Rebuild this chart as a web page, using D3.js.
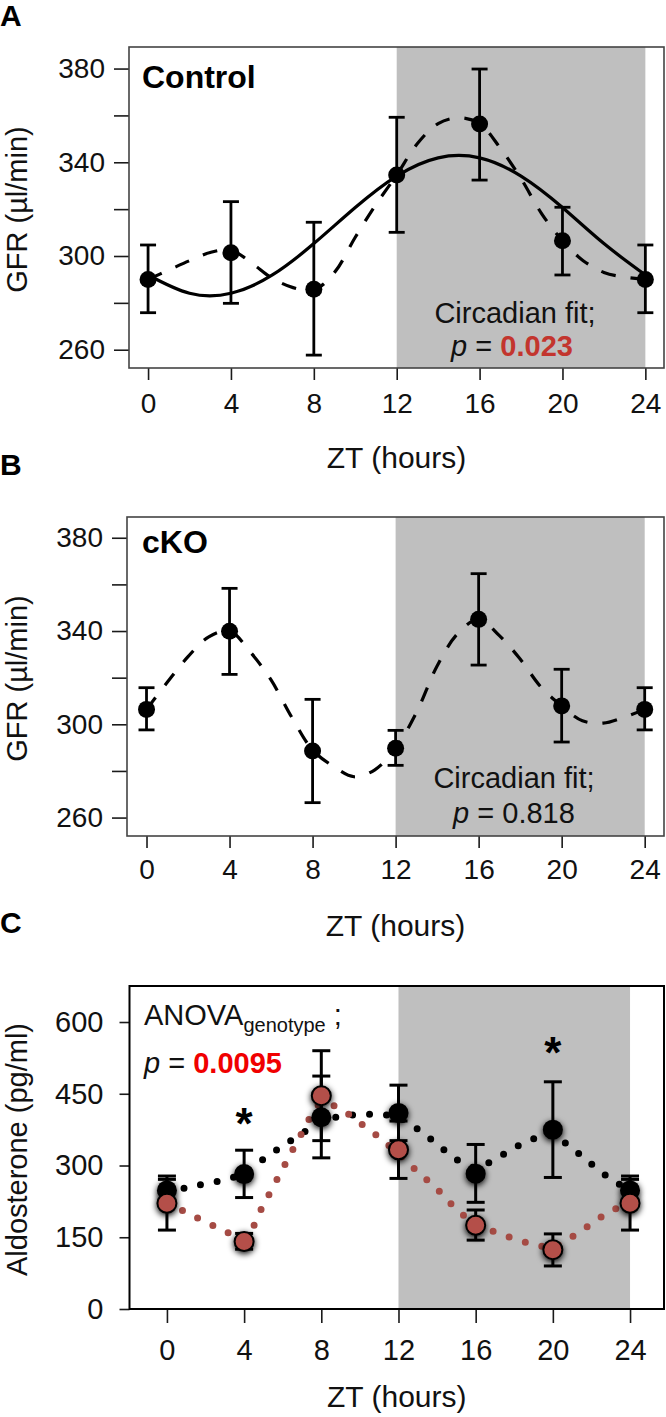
<!DOCTYPE html>
<meta charset="utf-8">
<style>
body { margin: 0; background: #fff; }
text { font-family: "Liberation Sans", Arial, Helvetica, sans-serif; }
</style>
<body>
<script src="https://d3js.org/d3.v7.min.js"></script>
<script>

// ---- data ----
var hours = [0, 4, 8, 12, 16, 20, 24];
var fitHours = [0, 2, 4, 6, 8, 10, 12, 14, 16, 18, 20, 22, 24];
var hourly = [0, 1, 2, 3, 4, 5, 6, 7, 8, 9, 10, 11, 12, 13, 14, 15, 16, 17, 18, 19, 20, 21, 22, 23, 24];
var zt_ticks = [0, 4, 8, 12, 16, 20, 24];

// A: Control GFR
var ctrlMean = [290.0, 301.4, 285.8, 334.6, 356.3, 306.5, 290.0];
var ctrlHi   = [304.7, 323.2, 314.4, 359.2, 379.8, 320.8, 304.7];
var ctrlLo   = [275.8, 279.8, 257.7, 310.1, 332.4, 291.9, 275.8];
var ctrlFit  = [291.9, 284.1, 284.1, 291.9, 305.3, 320.7, 334.1, 341.9, 341.9, 334.1, 320.7, 305.3, 291.9];
var ctrlDash = [290, 294, 298, 301.5, 302.5, 297, 290.5, 286.5, 285.5, 293, 308, 322, 334.6, 348, 356.5, 359, 356.5, 346, 333, 318, 306.5, 298, 293, 291, 290];

// B: cKO GFR
var ckoMean = [306.4, 339.9, 288.6, 289.7, 345.0, 307.9, 306.4];
var ckoHi   = [315.7, 358.3, 310.7, 297.4, 364.6, 323.6, 315.7];
var ckoLo   = [297.6, 321.4, 266.4, 282.4, 325.4, 292.4, 297.6];
var ckoDash = [306.4, 318, 329, 337.5, 340, 331, 319, 303, 289, 282, 277.5, 280.5, 289.7, 305, 325, 339, 345, 338, 328, 316, 307.9, 301.5, 300.5, 303, 306.4];

var gfrTicks = [260, 300, 340, 380];
var gfrMinor = [280, 320, 360];

// C: aldosterone
var ctlAldo   = [248, 282, 401, 410, 283, 375, 248];
var ctlAldoHi = [278, 332, 487, 468, 344, 475, 278];
var ctlAldoLo = [218, 233, 316, 352, 223, 275, 218];
var koAldo    = [221, 141, 446, 333, 175, 124, 221];
var koAldoHi  = [271, 158, 540, 393, 207, 157, 271];
var koAldoLo  = [165, 125, 352, 273, 144, 90, 165];
var ctlDots = [248, 253, 262, 270, 285, 313, 341, 367, 390, 403, 406, 407, 400, 376, 345, 313, 296, 313, 337, 356, 362, 336, 303, 272, 248];
var koDots  = [221, 202, 182, 163, 148, 218, 293, 368, 430, 418, 389, 359, 324, 287, 251, 209, 178, 161, 147, 135, 130, 151, 178, 205, 221];
var aldoTicks = [0, 150, 300, 450, 600];
var starHours = [4, 20];

var W = 666, H = 1417;
var shade = "#bfbfbf";
var redDot = "#a54b44";
var redFill = "#b44f48";

var svg = d3.select("body").append("svg")
    .attr("width", W)
    .attr("height", H);

var defs = svg.append("defs");
var f = defs.append("filter").attr("id", "glow")
    .attr("x", "-80%").attr("y", "-80%").attr("width", "260%").attr("height", "260%");
f.append("feGaussianBlur").attr("in", "SourceAlpha").attr("stdDeviation", 3.2);
f.append("feOffset").attr("dx", 0).attr("dy", 2).attr("result", "blur");
var fm = f.append("feMerge");
fm.append("feMergeNode").attr("in", "blur");
fm.append("feMergeNode").attr("in", "SourceGraphic");

function styleAxis(g, size) {
  g.select(".domain").remove();
  g.selectAll(".tick line").attr("stroke", "#1a1a1a").attr("stroke-width", 1.6);
  g.selectAll(".tick text").attr("fill", "#111").style("font-size", size + "px")
    .style("font-family", "'Liberation Sans', Arial, sans-serif");
}

// common frame for one panel
function frame(p) {
  var x = d3.scaleLinear().domain(p.xdom).range([p.left, p.right]);
  var y = d3.scaleLinear().domain(p.ydom).range([p.bottom, p.top]);
  var g = svg.append("g");

  g.append("rect")
    .attr("x", x(12)).attr("y", p.top)
    .attr("width", x(24) - x(12)).attr("height", p.bottom - p.top)
    .attr("fill", shade);

  var ya = g.append("g").attr("transform", "translate(" + p.left + ",0)")
    .call(d3.axisLeft(y).tickValues(p.yticks).tickSize(p.ytick).tickPadding(p.ypad));
  styleAxis(ya, p.fs);
  if (p.yminor) {
    var ym = g.append("g").attr("transform", "translate(" + p.left + ",0)")
      .call(d3.axisLeft(y).tickValues(p.yminor).tickSize(p.ytick).tickFormat(""));
    styleAxis(ym, p.fs);
  }
  var xa = g.append("g").attr("transform", "translate(0," + p.bottom + ")")
    .call(d3.axisBottom(x).tickValues(zt_ticks).tickSize(p.xtick).tickPadding(p.xpad));
  styleAxis(xa, p.fs);

  g.append("text").attr("x", (p.left + p.right) / 2).attr("y", p.xtitleY)
    .attr("text-anchor", "middle").style("font-size", "30px").attr("fill", "#111")
    .text("ZT (hours)");
  g.append("text")
    .attr("transform", "translate(27," + ((p.top + p.bottom) / 2 + 2) + ") rotate(-90)")
    .attr("text-anchor", "middle").style("font-size", "29px").attr("fill", "#111")
    .text(p.ytitle);
  g.append("text").attr("x", 0).attr("y", p.letterY)
    .style("font-size", "30px").style("font-weight", "bold").text(p.letter);

  return {x: x, y: y, g: g};
}

function errBars(g, x, y, hi, lo, cap, sw, color) {
  var eb = g.append("g").attr("stroke", color).attr("stroke-width", sw).attr("fill", "none");
  hours.forEach(function (h, i) {
    eb.append("line").attr("x1", x(h)).attr("x2", x(h)).attr("y1", y(hi[i])).attr("y2", y(lo[i]));
    eb.append("line").attr("x1", x(h) - cap).attr("x2", x(h) + cap).attr("y1", y(hi[i])).attr("y2", y(hi[i]));
    eb.append("line").attr("x1", x(h) - cap).attr("x2", x(h) + cap).attr("y1", y(lo[i])).attr("y2", y(lo[i]));
  });
}

function box(g, p, col, w) {
  g.append("rect").attr("x", p.left).attr("y", p.top)
    .attr("width", p.right - p.left).attr("height", p.bottom - p.top)
    .attr("fill", "none").attr("stroke", col).attr("stroke-width", w);
}

// ---------- Panel A ----------
var pA = {left: 129, right: 664, top: 47, bottom: 368,
  xdom: [-0.92, 24.9], ydom: [252.2, 389.2],
  yticks: gfrTicks, yminor: gfrMinor, ytick: 15, ypad: 9, xtick: 12, xpad: 13, fs: 28,
  xtitleY: 468, ytitle: "GFR (\u00b5l/min)", letter: "A", letterY: 26};
var A = frame(pA);

var lineA = d3.line().x(function (d) { return A.x(d[0]); }).y(function (d) { return A.y(d[1]); });
A.g.append("path").datum(d3.zip(fitHours, ctrlFit))
  .attr("d", lineA.curve(d3.curveNatural))
  .attr("fill", "none").attr("stroke", "#000").attr("stroke-width", 3.2);
A.g.append("path").datum(d3.zip(hourly, ctrlDash))
  .attr("d", lineA.curve(d3.curveCatmullRom))
  .attr("fill", "none").attr("stroke", "#000").attr("stroke-width", 3.2)
  .attr("stroke-dasharray", "15,15");
errBars(A.g, A.x, A.y, ctrlHi, ctrlLo, 8, 2.8, "#000");
A.g.selectAll("circle.pt").data(d3.zip(hours, ctrlMean)).enter().append("circle")
  .attr("cx", function (d) { return A.x(d[0]); }).attr("cy", function (d) { return A.y(d[1]); })
  .attr("r", 8.5).attr("fill", "#000");
box(A.g, pA, "#444", 1.6);

A.g.append("text").attr("x", 142).attr("y", 88)
  .style("font-size", "32px").style("font-weight", "bold").text("Control");
A.g.append("text").attr("x", 515).attr("y", 323).attr("text-anchor", "middle")
  .style("font-size", "29px").attr("fill", "#111").text("Circadian fit;");
var tA = A.g.append("text").attr("x", 512).attr("y", 356).attr("text-anchor", "middle")
  .style("font-size", "29px").attr("fill", "#111");
tA.append("tspan").style("font-style", "italic").text("p");
tA.append("tspan").text(" = ");
tA.append("tspan").style("font-weight", "bold").attr("fill", "#c3352e").text("0.023");

// ---------- Panel B ----------
var pB = {left: 127, right: 664, top: 517, bottom: 836,
  xdom: [-0.94, 24.93], ydom: [252.1, 388.9],
  yticks: gfrTicks, yminor: gfrMinor, ytick: 15, ypad: 9, xtick: 12, xpad: 11, fs: 28,
  xtitleY: 936, ytitle: "GFR (\u00b5l/min)", letter: "B", letterY: 475};
var B = frame(pB);

var lineB = d3.line().x(function (d) { return B.x(d[0]); }).y(function (d) { return B.y(d[1]); })
  .curve(d3.curveCatmullRom);
B.g.append("path").datum(d3.zip(hourly, ckoDash)).attr("d", lineB)
  .attr("fill", "none").attr("stroke", "#000").attr("stroke-width", 3.2)
  .attr("stroke-dasharray", "15,15");
errBars(B.g, B.x, B.y, ckoHi, ckoLo, 8, 2.8, "#000");
B.g.selectAll("circle.pt").data(d3.zip(hours, ckoMean)).enter().append("circle")
  .attr("cx", function (d) { return B.x(d[0]); }).attr("cy", function (d) { return B.y(d[1]); })
  .attr("r", 8.5).attr("fill", "#000");
box(B.g, pB, "#444", 1.6);

B.g.append("text").attr("x", 142).attr("y", 553)
  .style("font-size", "32px").style("font-weight", "bold").text("cKO");
B.g.append("text").attr("x", 514).attr("y", 788).attr("text-anchor", "middle")
  .style("font-size", "29px").attr("fill", "#111").text("Circadian fit;");
var tB = B.g.append("text").attr("x", 514).attr("y", 823).attr("text-anchor", "middle")
  .style("font-size", "29px").attr("fill", "#111");
tB.append("tspan").style("font-style", "italic").text("p");
tB.append("tspan").text(" = 0.818");

// ---------- Panel C ----------
var pC = {left: 129.5, right: 664, top: 986, bottom: 1309,
  xdom: [-1.94, 25.76], ydom: [0, 675.3],
  yticks: aldoTicks, yminor: null, ytick: 10, ypad: 16, xtick: 14, xpad: 16, fs: 29,
  xtitleY: 1407, ytitle: "Aldosterone (pg/ml)", letter: "C", letterY: 933};
var C = frame(pC);

var lineC = d3.line().x(function (d) { return C.x(d[0]); }).y(function (d) { return C.y(d[1]); })
  .curve(d3.curveCatmullRom);
C.g.append("path").datum(d3.zip(hourly, ctlDots)).attr("d", lineC)
  .attr("fill", "none").attr("stroke", "#000").attr("stroke-width", 7)
  .attr("stroke-linecap", "round").attr("stroke-dasharray", "0,17");
C.g.append("path").datum(d3.zip(hourly, koDots)).attr("d", lineC)
  .attr("fill", "none").attr("stroke", redDot).attr("stroke-width", 7)
  .attr("stroke-linecap", "round").attr("stroke-dasharray", "0,17");

errBars(C.g, C.x, C.y, ctlAldoHi, ctlAldoLo, 9, 3, "#000");
C.g.selectAll("circle.ctl").data(d3.zip(hours, ctlAldo)).enter().append("circle")
  .attr("cx", function (d) { return C.x(d[0]); }).attr("cy", function (d) { return C.y(d[1]); })
  .attr("r", 10).attr("fill", "#000").attr("filter", "url(#glow)");
errBars(C.g, C.x, C.y, koAldoHi, koAldoLo, 9, 3, "#000");
C.g.selectAll("circle.ko").data(d3.zip(hours, koAldo)).enter().append("circle")
  .attr("cx", function (d) { return C.x(d[0]); }).attr("cy", function (d) { return C.y(d[1]); })
  .attr("r", 9.5).attr("fill", redFill).attr("stroke", "#000").attr("stroke-width", 2)
  .attr("filter", "url(#glow)");
box(C.g, pC, "#000", 2);

C.g.selectAll("text.star").data(starHours).enter().append("text")
  .attr("x", function (h) { return C.x(h); })
  .attr("y", function (h, i) { return i == 0 ? 1139 : 1068; })
  .attr("text-anchor", "middle").style("font-size", "44px").style("font-weight", "bold")
  .text("*");

var tC = C.g.append("text").attr("x", 144).attr("y", 1025)
  .style("font-size", "29px").attr("fill", "#111");
tC.append("tspan").text("ANOVA");
tC.append("tspan").attr("dy", 7).style("font-size", "20px").text("genotype");
tC.append("tspan").attr("dy", -7).text(" ;");
var tC2 = C.g.append("text").attr("x", 144).attr("y", 1073)
  .style("font-size", "29px").attr("fill", "#111");
tC2.append("tspan").style("font-style", "italic").text("p");
tC2.append("tspan").text(" = ");
tC2.append("tspan").style("font-weight", "bold").attr("fill", "#f00000").text("0.0095");

</script>
</body>
